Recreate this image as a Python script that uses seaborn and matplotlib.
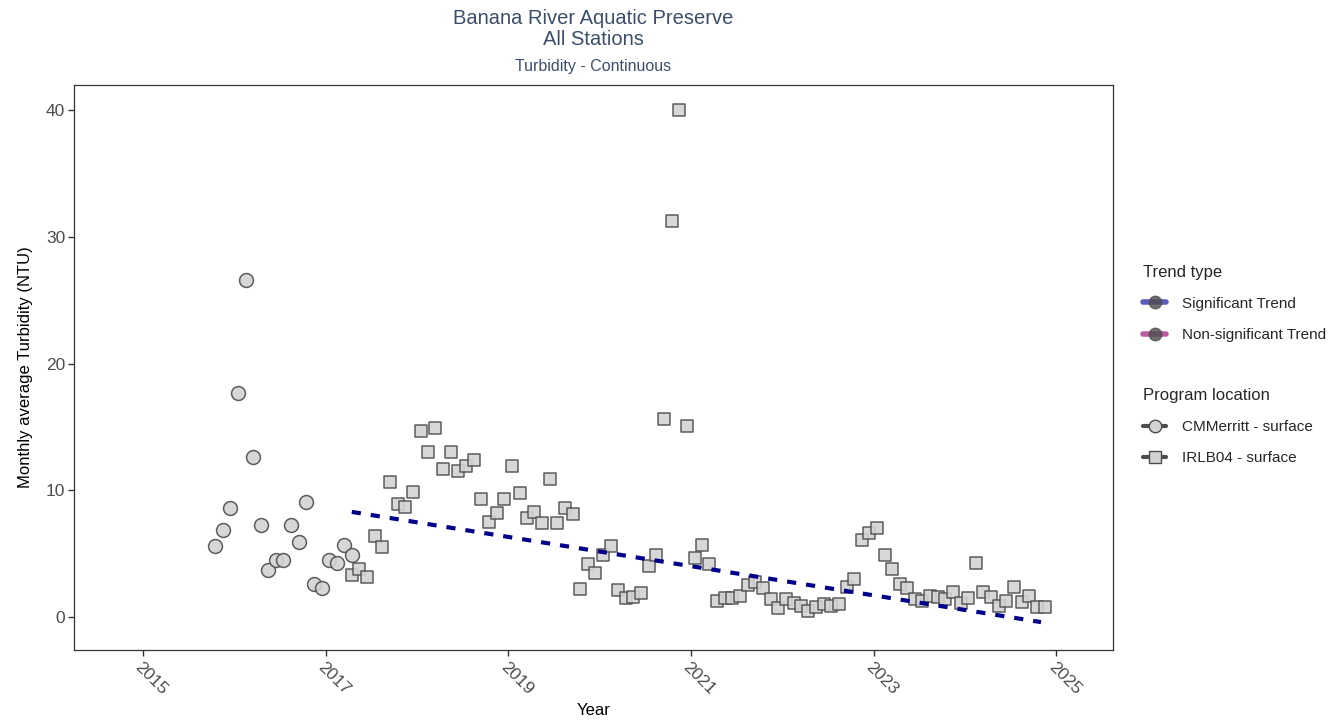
import pandas as pd
import matplotlib
matplotlib.use("Agg")
import matplotlib.pyplot as plt
import matplotlib.dates as mdates
from matplotlib.lines import Line2D
import seaborn as sns

# ----------------------
# Data (monthly averages)
# ----------------------
cm_label = "CMMerritt - surface"
irl_label = "IRLB04 - surface"

cm_months = pd.date_range("2015-10-01", periods=19, freq="MS") + pd.Timedelta(days=14)
cm_values = [5.6, 6.9, 8.6, 17.7, 26.6, 12.6, 7.3, 3.7, 4.5, 4.5,
             7.3, 5.9, 9.1, 2.6, 2.3, 4.5, 4.3, 5.7, 4.9]

irl_months = pd.date_range("2017-04-01", periods=92, freq="MS") + pd.Timedelta(days=14)
irl_values = [3.3, 3.8, 3.2, 6.4, 5.5, 10.7, 8.9, 8.7, 9.9, 14.7,
              13.0, 14.9, 11.7, 13.0, 11.5, 11.9, 12.4, 9.3, 7.5, 8.2,
              9.3, 11.9, 9.8, 7.8, 8.3, 7.4, 10.9, 7.4, 8.6, 8.1,
              2.2, 4.2, 3.5, 4.9, 5.6, 2.1, 1.5, 1.6, 1.9, 4.0,
              4.9, 15.6, 31.3, 40.0, 15.1, 4.7, 5.7, 4.2, 1.3, 1.5,
              1.5, 1.7, 2.5, 2.8, 2.3, 1.4, 0.7, 1.4, 1.1, 0.9,
              0.45, 0.8, 1.0, 0.9, 1.05, 2.4, 3.0, 6.1, 6.6, 7.0,
              4.9, 3.8, 2.6, 2.3, 1.45, 1.3, 1.7, 1.55, 1.4, 2.0,
              1.1, 1.5, 4.25, 2.0, 1.6, 0.9, 1.3, 2.4, 1.2, 1.65,
              0.8, 0.8]

trend_dates = [pd.Timestamp("2017-04-15"), pd.Timestamp("2024-11-01")]
trend_values = [8.3, -0.4]

trend_labels = ["Significant Trend", "Non-significant Trend"]
trend_colors = ["#3333AA", "#AA3388"]

title_color = "#3B4E6B"
point_fill = "#D3D3D3"
point_edge = "#4D4D4D"

df = pd.DataFrame({
    "date": list(cm_months) + list(irl_months),
    "value": cm_values + irl_values,
    "location": [cm_label] * len(cm_values) + [irl_label] * len(irl_values),
})

# ----------------------
# Style
# ----------------------
sns.set_style("white")
plt.rcParams["font.family"] = ["Liberation Sans", "DejaVu Sans"]

fig = plt.figure(figsize=(13.4, 7.23), dpi=100)
ax = fig.add_axes([0.0549, 0.101, 0.7757, 0.7814])

# points
sns.scatterplot(data=df[df["location"] == cm_label], x="date", y="value",
                marker="o", s=100, color=point_fill, edgecolor=point_edge,
                linewidth=1.1, alpha=0.9, ax=ax, legend=False, zorder=3)
sns.scatterplot(data=df[df["location"] == irl_label], x="date", y="value",
                marker="s", s=84, color=point_fill, edgecolor=point_edge,
                linewidth=1.1, alpha=0.9, ax=ax, legend=False, zorder=3)

# trend line
trend_df = pd.DataFrame({"date": trend_dates, "value": trend_values})
sns.lineplot(data=trend_df, x="date", y="value", ax=ax, color="#00008B",
             linewidth=3.0, dashes=False, zorder=4)
ax.lines[-1].set_dashes((2.2, 2.4))
ax.lines[-1].set_dash_capstyle("butt")

# axes
ax.set_xlim(pd.Timestamp("2014-03-29"), pd.Timestamp("2025-08-16"))
ax.set_ylim(-2.6, 42.0)
ax.set_yticks([0, 10, 20, 30, 40])
ticks = [pd.Timestamp(f"{y}-01-01") for y in range(2015, 2026, 2)]
ax.set_xticks(ticks)
ax.xaxis.set_major_formatter(mdates.DateFormatter("%Y"))
for lab in ax.get_xticklabels():
    lab.set_rotation(-45)
    lab.set_ha("left")
    lab.set_va("top")
    lab.set_rotation_mode("anchor")

ax.tick_params(axis="both", direction="out", length=4, width=1,
               bottom=True, left=True,
               color="#333333", labelcolor="#4D4D4D", labelsize=12.5, pad=2)
ax.tick_params(axis="x", pad=3)
for sp in ax.spines.values():
    sp.set_color("#333333")
    sp.set_linewidth(0.9)

ax.set_xlabel("Year", fontsize=12, color="black", labelpad=4)
ax.set_ylabel("Monthly average Turbidity (NTU)", fontsize=12, color="black", labelpad=9)

# titles
cx = 0.0549 + 0.7757 / 2
fig.text(cx, 0.987, "Banana River Aquatic Preserve\nAll Stations", ha="center", va="top",
         fontsize=14.5, color=title_color, linespacing=1.14)
fig.text(cx, 0.908, "Turbidity - Continuous", ha="center", va="center",
         fontsize=11.5, color=title_color)

# legends
trend_handles = [
    Line2D([0], [0], color=c, lw=4, alpha=0.8, marker="o", markersize=9,
           markerfacecolor=point_edge, markeredgecolor=point_edge)
    for c in trend_colors
]
loc_handles = [
    Line2D([0], [0], color=point_edge, lw=3, marker="o", markersize=9,
           markerfacecolor=point_fill, markeredgecolor=point_edge),
    Line2D([0], [0], color=point_edge, lw=3, marker="s", markersize=8,
           markerfacecolor=point_fill, markeredgecolor=point_edge),
]
leg1 = fig.legend(trend_handles, trend_labels, title="Trend type",
                  loc="upper left", bbox_to_anchor=(0.843, 0.653), frameon=False,
                  fontsize=11, title_fontsize=12, alignment="left",
                  handlelength=1.5, handletextpad=1.0, labelspacing=1.12)
leg2 = fig.legend(loc_handles, [cm_label, irl_label], title="Program location",
                  loc="upper left", bbox_to_anchor=(0.843, 0.482), frameon=False,
                  fontsize=11, title_fontsize=12, alignment="left",
                  handlelength=1.5, handletextpad=1.0, labelspacing=1.12)

fig.savefig("out.png", dpi=100)
plt.close(fig)
